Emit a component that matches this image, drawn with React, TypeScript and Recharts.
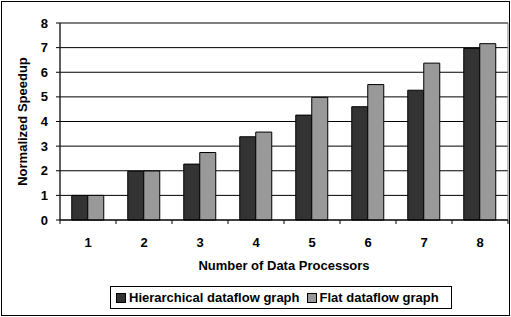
import {
  BarChart,
  Bar,
  XAxis,
  YAxis,
  CartesianGrid,
  Legend,
  ReferenceArea,
  ReferenceLine,
} from "recharts";

const PROCESSORS = ["1", "2", "3", "4", "5", "6", "7", "8"];
const HIERARCHICAL = [1.0, 1.98, 2.27, 3.38, 4.26, 4.6, 5.27, 6.97];
const FLAT = [1.0, 1.99, 2.74, 3.57, 4.98, 5.5, 6.37, 7.16];
const Y_TICKS = [0, 1, 2, 3, 4, 5, 6, 7, 8];

const DARK = "#333333";
const LIGHT = "#999999";
const FONT = "Arial, 'Liberation Sans', sans-serif";
const FS = 13;

const data = PROCESSORS.map((n, i) => ({
  n,
  hier: HIERARCHICAL[i],
  flat: FLAT[i],
}));

function CategoryTick(props: any) {
  const { x, y, payload, index } = props;
  const half = payload?.offset ?? 28;
  const last = index === PROCESSORS.length - 1;
  return (
    <g>
      <line x1={x - half} x2={x - half} y1={y} y2={y + 4} stroke="#000" />
      {last && <line x1={x + half} x2={x + half} y1={y} y2={y + 4} stroke="#000" />}
      <text
        x={x}
        y={y + 27}
        textAnchor="middle"
        fontFamily={FONT}
        fontWeight="bold"
        fontSize={FS}
        fill="#000"
      >
        {payload.value}
      </text>
    </g>
  );
}

function LegendBox() {
  const item = (color: string, label: string) => (
    <span style={{ display: "inline-flex", alignItems: "center", marginRight: 7 }}>
      <span
        style={{
          display: "inline-block",
          width: 8,
          height: 8,
          background: color,
          border: "1px solid #000",
          marginRight: 3,
        }}
      />
      {label}
    </span>
  );
  return (
    <div
      style={{
        boxSizing: "border-box",
        width: 342,
        height: 23,
        border: "1px solid #000",
        display: "flex",
        alignItems: "center",
        paddingLeft: 5,
        fontFamily: FONT,
        fontWeight: "bold",
        fontSize: FS,
        color: "#000",
        background: "#fff",
        whiteSpace: "nowrap",
      }}
    >
      {item(DARK, "Hierarchical dataflow graph")}
      {item(LIGHT, "Flat dataflow graph")}
    </div>
  );
}

export default function App() {
  return (
    <div style={{ position: "absolute", left: 0, top: 0, width: 511, height: 317, background: "#fff" }}>
      <div
        style={{
          position: "absolute",
          left: 1,
          top: 1,
          width: 509,
          height: 315,
          boxSizing: "border-box",
          border: "1px solid #000",
        }}
      />
      <div style={{ position: "absolute", left: 0, top: 0 }}>
        <BarChart
          width={511}
          height={317}
          data={data}
          margin={{ top: 23, right: 3, left: 0, bottom: 7 }}
          barCategoryGap="21%"
          barGap={0}
        >
          <CartesianGrid vertical={false} stroke="#000" />
          <ReferenceArea x1="1" x2="8" y1={0} y2={8} stroke="#808080" fill="none" ifOverflow="visible" />
          <ReferenceLine y={8} stroke="#808080" ifOverflow="visible" />
          <XAxis
            dataKey="n"
            height={66}
            axisLine={{ stroke: "#000" }}
            tickLine={false}
            tickSize={0}
            tickMargin={0}
            tick={<CategoryTick />}
            interval={0}
            label={{
              content: ({ viewBox }: any) => (
                <text
                  x={viewBox.x + viewBox.width / 2}
                  y={viewBox.y + 50}
                  textAnchor="middle"
                  fontFamily={FONT}
                  fontWeight="bold"
                  fontSize={FS}
                  fill="#000"
                >
                  Number of Data Processors
                </text>
              ),
            }}
          />
          <YAxis
            width={60}
            domain={[0, 8]}
            ticks={Y_TICKS}
            interval={0}
            axisLine={{ stroke: "#000" }}
            tickLine={{ stroke: "#000" }}
            tickSize={4}
            tickMargin={8}
            tick={{ fontFamily: FONT, fontWeight: "bold", fontSize: FS, fill: "#000" }}
            label={{
              content: ({ viewBox }: any) => {
                const cx = viewBox.x + 22;
                const cy = viewBox.y + viewBox.height / 2;
                return (
                  <text
                    x={cx}
                    y={cy}
                    transform={`rotate(-90 ${cx} ${cy})`}
                    textAnchor="middle"
                    dominantBaseline="central"
                    fontFamily={FONT}
                    fontWeight="bold"
                    fontSize={FS}
                    fill="#000"
                  >
                    Normalized Speedup
                  </text>
                );
              },
            }}
          />
          <Legend
            verticalAlign="bottom"
            height={24}
            content={() => <LegendBox />}
            wrapperStyle={{ left: 110, width: 342 }}
          />
          <Bar dataKey="hier" name="Hierarchical dataflow graph" fill={DARK} stroke="#000" isAnimationActive={false} />
          <Bar dataKey="flat" name="Flat dataflow graph" fill={LIGHT} stroke="#000" isAnimationActive={false} />
        </BarChart>
      </div>
    </div>
  );
}
